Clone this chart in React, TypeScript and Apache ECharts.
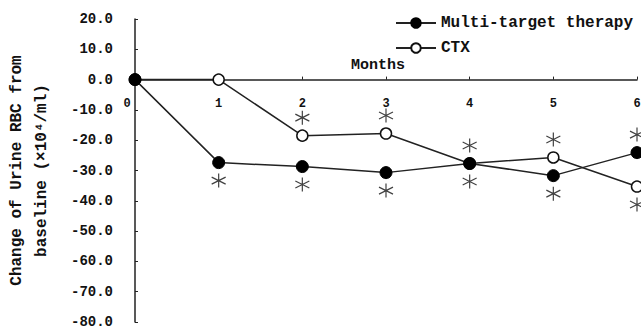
import React, { useEffect, useRef } from "react";
import * as echarts from "echarts";

const months = [0, 1, 2, 3, 4, 5, 6];
const multiTarget = [0, -27.4, -28.7, -30.7, -27.7, -31.7, -24.1];
const ctx = [0, 0, -18.5, -17.8, -27.7, -25.7, -35.3];
// asterisk placement per point: 1 = above, -1 = below, 0 = none
const multiStars = [0, -1, -1, -1, -1, -1, 1];
const ctxStars = [0, 0, 1, 1, 1, 1, -1];
const seriesNames = ["Multi-target therapy", "CTX"];
const yTitle = "Change of Urine RBC from\nbaseline (×10⁴/ml)";
const xTitle = "Months";

const FONT = "Liberation Mono";
const STAR = "path://M0,-6L0,6M-5.2,-3L5.2,3M-5.2,3L5.2,-3";

function stars(values: number[], flags: number[]) {
  const out: any[] = [];
  values.forEach((v, i) => {
    if (flags[i]) {
      out.push({ value: [months[i], v], symbolOffset: [0, flags[i] > 0 ? -18 : 18] });
    }
  });
  return out;
}

export default function App() {
  const ref = useRef<HTMLDivElement>(null);
  useEffect(() => {
    if (!ref.current) return;
    const chart = echarts.init(ref.current, undefined, { renderer: "svg" });
    const starSeries = (data: any[]) => ({
      type: "scatter",
      z: 4,
      data,
      symbol: STAR,
      symbolSize: 14,
      silent: true,
      itemStyle: { color: "none", borderColor: "#111", borderWidth: 1.2 },
    });
    const TOP = 19;
    const BOTTOM = 7;
    const plotH = 329 - TOP - BOTTOM;
    const zeroH = (plotH * 20) / 100;
    chart.setOption({
      animation: false,
      backgroundColor: "#fff",
      textStyle: { fontFamily: FONT },
      grid: [
        { left: 135, right: 4, top: TOP, bottom: BOTTOM, containLabel: false, outerBoundsMode: "none" },
        { left: 135, right: 4, top: TOP, height: zeroH, containLabel: false, outerBoundsMode: "none" },
      ],
      legend: {
        orient: "vertical",
        left: 390,
        top: 10,
        itemWidth: 40,
        itemHeight: 12,
        itemGap: 9,
        textStyle: {
          fontFamily: FONT,
          fontWeight: "bold",
          fontSize: 16,
          color: "#111",
          lineHeight: 16,
        },
        data: seriesNames,
      },
      graphic: [
        {
          type: "text",
          left: 351,
          top: 58,
          style: { text: xTitle, fontFamily: FONT, fontWeight: "bold", fontSize: 15, fill: "#111" },
        },
      ],
      xAxis: [
        {
          type: "value",
          gridIndex: 0,
          min: 0,
          max: 6,
          interval: 1,
          show: false,
        },
        {
          type: "value",
          gridIndex: 1,
          min: 0,
          max: 6,
          interval: 1,
          position: "bottom",
          axisLine: { onZero: false, lineStyle: { color: "#222", width: 1.5 } },
          axisTick: { show: true, inside: true, length: 3, lineStyle: { color: "#222" } },
          splitLine: { show: false },
          axisLabel: {
            margin: 18,
            showMinLabel: true,
            showMaxLabel: true,
            hideOverlap: false,
            fontFamily: FONT,
            fontWeight: "bold",
            fontSize: 12,
            color: "#111",
            formatter: (v: number) => (v === 0 ? "{z|0}" : String(v)),
            rich: {
              z: { fontFamily: FONT, fontWeight: "bold", fontSize: 12, color: "#111", padding: [0, 16, 0, 0] },
            },
          },
        },
      ],
      yAxis: [
        {
          type: "value",
          gridIndex: 0,
          min: -80,
          max: 20,
          interval: 10,
          name: yTitle,
          nameLocation: "middle",
          nameRotate: 90,
          nameGap: 81,
          nameTextStyle: {
            fontFamily: FONT,
            fontWeight: "bold",
            fontSize: 16,
            lineHeight: 25,
            color: "#111",
            align: "center",
          },
          axisLine: { show: true, onZero: false, lineStyle: { color: "#222", width: 1.5 } },
          axisTick: { show: true, inside: true, length: 3, lineStyle: { color: "#222" } },
          splitLine: { show: false },
          axisLabel: {
            margin: 22,
            showMinLabel: true,
            showMaxLabel: true,
            fontFamily: FONT,
            fontWeight: "bold",
            fontSize: 14,
            color: "#111",
            formatter: (v: number) => v.toFixed(1),
          },
        },
        {
          type: "value",
          gridIndex: 1,
          min: 0,
          max: 20,
          show: false,
        },
      ],
      series: [
        {
          name: seriesNames[1],
          type: "line",
          z: 2,
          data: ctx.map((v, i) => [months[i], v]),
          symbol: "circle",
          symbolSize: 11,
          lineStyle: { color: "#222", width: 1.5 },
          itemStyle: { color: "#fff", borderColor: "#111", borderWidth: 1.5 },
        },
        {
          name: seriesNames[0],
          type: "line",
          z: 3,
          data: multiTarget.map((v, i) => [months[i], v]),
          symbol: "circle",
          symbolSize: 12,
          lineStyle: { color: "#222", width: 1.5 },
          itemStyle: { color: "#000", borderColor: "#000", borderWidth: 1 },
        },
        starSeries(stars(multiTarget, multiStars)),
        starSeries(stars(ctx, ctxStars)),
      ],
    });
    return () => chart.dispose();
  }, []);
  return (
    <div
      ref={ref}
      style={{ position: "fixed", left: 0, top: 0, width: 641, height: 329 }}
    />
  );
}
